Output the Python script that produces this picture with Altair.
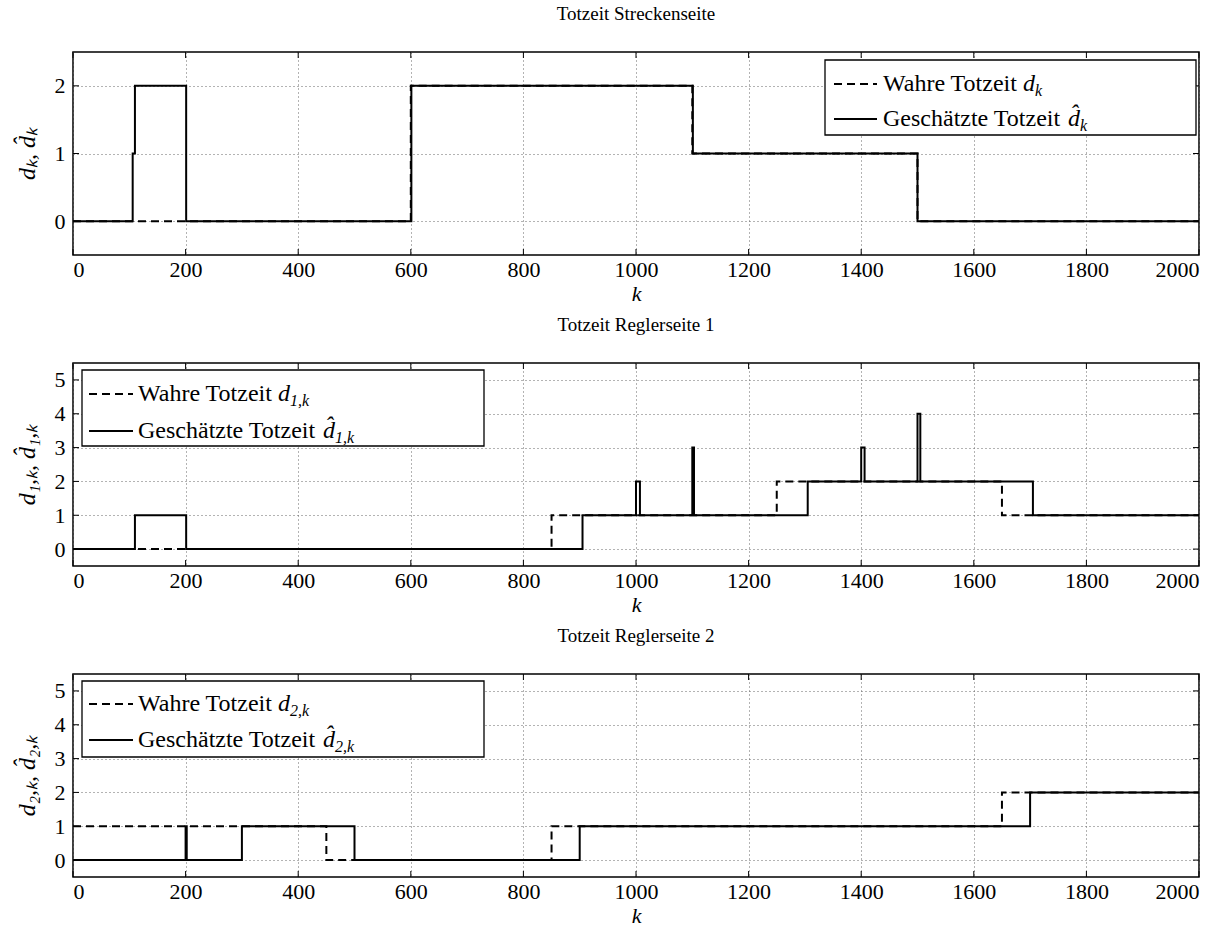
import altair as alt
import pandas as pd

FONT = "Liberation Serif"

# ---- data (step breakpoints k and values after each breakpoint) ----
# Panel 1: Totzeit Streckenseite
p1_true_k = [0, 600, 1100, 1500, 2000]
p1_true_v = [0, 2, 1, 0, 0]
p1_est_k = [0, 106, 110, 201, 601, 1101, 1500, 2000]
p1_est_v = [0, 1, 2, 0, 2, 1, 0, 0]

# Panel 2: Totzeit Reglerseite 1
p2_true_k = [0, 850, 1250, 1650, 2000]
p2_true_v = [0, 1, 2, 1, 1]
p2_est_k = [0, 110, 201, 905, 1000, 1007, 1100, 1103, 1305, 1400, 1406, 1500, 1505, 1705, 2000]
p2_est_v = [0, 1, 0, 1, 2, 1, 3, 1, 2, 3, 2, 4, 2, 1, 1]

# Panel 3: Totzeit Reglerseite 2
p3_true_k = [0, 450, 850, 1650, 2000]
p3_true_v = [1, 0, 1, 2, 2]
p3_est_k = [0, 200, 202, 300, 500, 900, 1700, 2000]
p3_est_v = [0, 1, 0, 1, 0, 1, 2, 2]

x_ticks = [0, 200, 400, 600, 800, 1000, 1200, 1400, 1600, 1800, 2000]
p1_y_ticks = [0, 1, 2]
p23_y_ticks = [0, 1, 2, 3, 4, 5]

titles = ["Totzeit Streckenseite", "Totzeit Reglerseite 1", "Totzeit Reglerseite 2"]
y_titles = ["dₖ, d̂ₖ", "d₁,ₖ, d̂₁,ₖ", "d₂,ₖ, d̂₂,ₖ"]
series_names = ["Wahre Totzeit", "Geschätzte Totzeit"]
legend_text = ["Wahre Totzeit ", "Geschätzte Totzeit "]
legend_sym = ["d", "d\u0302"]
legend_sub = ["k", "1,k", "2,k"]

W, H = 1126, 203
TL = 6  # inward tick length
LFS = 24  # legend font size
DASH = [8, 5]
# horizontal advance of "Wahre Totzeit " and "Geschätzte Totzeit " at LFS
ADV = [140, 185]


def legend_layer(box, sym_x, lab_x, rows, sub):
    dummy = alt.Chart(pd.DataFrame({"a": [0]}))
    layers = [
        dummy.mark_rect(fill="white", stroke="black", strokeWidth=1.3).encode(
            x=alt.value(box[0]), x2=alt.value(box[1]),
            y=alt.value(box[2]), y2=alt.value(box[3])),
    ]
    dashes = [DASH, [1, 0]]
    for i in range(2):
        r = rows[i]
        layers.append(dummy.mark_rule(color="black", strokeWidth=2, strokeDash=dashes[i]).encode(
            x=alt.value(sym_x[0]), x2=alt.value(sym_x[1]), y=alt.value(r)))
        layers.append(dummy.mark_text(text=legend_text[i], font=FONT, fontSize=LFS,
                                      align="left", baseline="middle", color="black").encode(
            x=alt.value(lab_x), y=alt.value(r)))
        xm = lab_x + ADV[i]
        layers.append(dummy.mark_text(text=legend_sym[i], font=FONT, fontSize=LFS, fontStyle="italic",
                                      align="left", baseline="middle", color="black").encode(
            x=alt.value(xm), y=alt.value(r)))
        layers.append(dummy.mark_text(text=sub, font=FONT, fontSize=16, fontStyle="italic",
                                      align="left", baseline="middle", color="black").encode(
            x=alt.value(xm + 12), y=alt.value(r + 7)))
    return layers


def panel(title, ytitle, true_k, true_v, est_k, est_v, ydom, yticks, leg):
    df = pd.DataFrame({
        "k": true_k + est_k,
        "v": true_v + est_v,
        "series": [series_names[0]] * len(true_k) + [series_names[1]] * len(est_k),
    })
    x = alt.X("k:Q", scale=alt.Scale(domain=[0, 2000], nice=False, zero=False),
              axis=alt.Axis(values=x_ticks, grid=True, format="d"), title="k")
    y = alt.Y("v:Q", scale=alt.Scale(domain=ydom, nice=False, zero=False),
              axis=alt.Axis(values=yticks, grid=True, format="d"), title=ytitle)

    base = alt.Chart(df)
    l_true = base.transform_filter(alt.datum.series == series_names[0]).mark_line(
        interpolate="step-after", color="black", strokeWidth=2, clip=True, strokeDash=DASH
    ).encode(x=x, y=y)
    l_est = base.transform_filter(alt.datum.series == series_names[1]).mark_line(
        interpolate="step-after", color="black", strokeWidth=2, clip=True
    ).encode(x=x, y=y)

    xt = alt.Chart(pd.DataFrame({"k": x_ticks}))
    yt = alt.Chart(pd.DataFrame({"v": yticks}))
    t_top = xt.mark_rule(color="black").encode(x=x, y=alt.value(0), y2=alt.value(TL))
    t_bot = xt.mark_rule(color="black").encode(x=x, y=alt.value(H), y2=alt.value(H - TL))
    t_left = yt.mark_rule(color="black").encode(y=y, x=alt.value(0), x2=alt.value(TL))
    t_right = yt.mark_rule(color="black").encode(y=y, x=alt.value(W), x2=alt.value(W - TL))

    return alt.layer(t_top, t_bot, t_left, t_right, l_true, l_est, *leg).properties(
        width=W, height=H,
        title=alt.TitleParams(title, font=FONT, fontSize=19, fontWeight="normal",
                              color="black", offset=28),
    )


leg1 = legend_layer([752, 1123, 8, 83], [761, 804], 810, [32, 67], legend_sub[0])
leg2 = legend_layer([9, 411, 7, 83], [16, 60], 65, [31, 68], legend_sub[1])
leg3 = legend_layer([9, 411, 7, 83], [16, 60], 65, [30, 66], legend_sub[2])

c1 = panel(titles[0], y_titles[0], p1_true_k, p1_true_v, p1_est_k, p1_est_v,
           [-0.5, 2.5], p1_y_ticks, leg1)
c2 = panel(titles[1], y_titles[1], p2_true_k, p2_true_v, p2_est_k, p2_est_v,
           [-0.5, 5.5], p23_y_ticks, leg2)
c3 = panel(titles[2], y_titles[2], p3_true_k, p3_true_v, p3_est_k, p3_est_v,
           [-0.5, 5.5], p23_y_ticks, leg3)

chart = alt.vconcat(c1, c2, c3, spacing=9).resolve_scale(
    x="independent", y="independent"
).properties(
    padding={"left": 14, "top": 3, "right": 10, "bottom": 0},
    background="white",
).configure_axis(
    labelFont=FONT, labelFontSize=22, labelColor="black",
    titleFont=FONT, titleFontStyle="italic", titleFontWeight="normal",
    titleColor="black",
    domain=False, ticks=False,
    gridColor="#666666", gridDash=[1, 3], gridWidth=1,
).configure_axisX(
    labelPadding=4, titlePadding=3, titleFontSize=22,
).configure_axisY(
    labelPadding=8, titlePadding=15, titleFontSize=24,
).configure_view(
    stroke="black", strokeWidth=1.5,
)

chart.save("out.html", embed_options={"renderer": "svg", "actions": False})
